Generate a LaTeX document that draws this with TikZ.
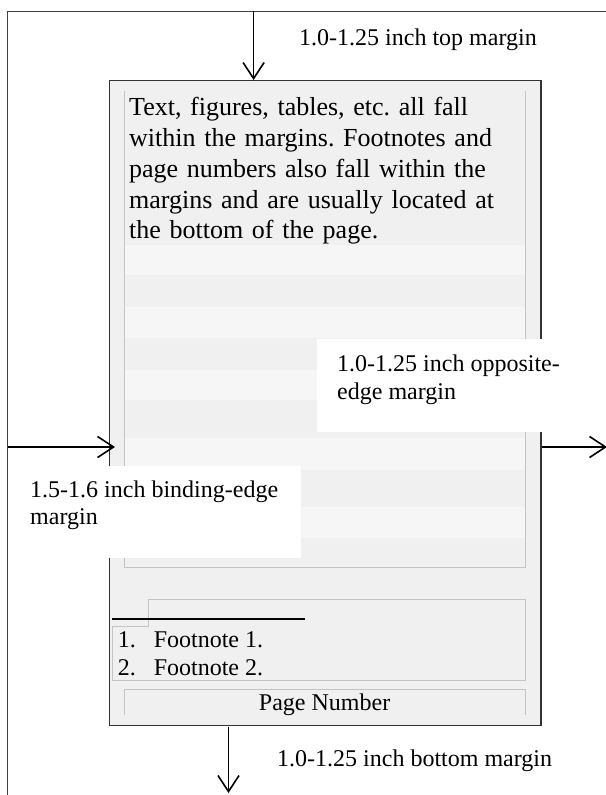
\documentclass[tikz,border=0pt]{standalone}
\usepackage{fontspec}
\setmainfont{Liberation Serif}
\usetikzlibrary{arrows.meta}
\definecolor{pagegray}{HTML}{F0F0F0}
\definecolor{bandlight}{HTML}{F6F6F6}
\definecolor{linegray}{HTML}{C4C4C4}
\newcommand\bodyfnt{\fontsize{26}{30.75}\selectfont\frenchspacing}
\newcommand\lblfnt{\fontsize{24}{27.5}\selectfont\frenchspacing}
\tikzset{
  frameline/.style={draw=black!75, line width=1.5pt},
  arr/.style={draw=black, line width=1.6pt, -{Straight Barb[length=16pt,width=21pt,line width=1.6pt]}},
  pagebox/.style={draw=black!80, line width=1.4pt, fill=pagegray, inner sep=0pt, anchor=north west},
  areabox/.style={inner sep=0pt, anchor=north west, draw=none},
  faint/.style={draw=linegray, line width=1pt},
  whitebox/.style={fill=white, inner sep=0pt, draw=none, anchor=north west},
  lbl/.style={font=\lblfnt, inner sep=0pt, anchor=base west, align=left},
  bodytext/.style={font=\bodyfnt, inner sep=0pt, anchor=base west, text width=400pt, align=left},
  fnrule/.style={draw=black, line width=2pt},
}
\begin{document}
\begin{tikzpicture}[x=1pt,y=-1pt]
\useasboundingbox (0,0) rectangle (605,795);
% outer page frame
\coordinate (fTR) at (612,11.3);
\coordinate (fTL) at (7.7,11.3);
\coordinate (fBL) at (7.7,800);
\draw[frameline] (fTR) -- (fTL) -- (fBL);
% page
\node[pagebox, minimum width=431.6pt, minimum height=645pt] (page) at (108.6,80) {};
% text area stripes
\foreach \a/\b in {245/275,307/338,370/400,438/470,507/538}
  \fill[bandlight] (124.3,\a) rectangle (525,\b);
\node[areabox, minimum width=400.7pt, minimum height=476.3pt] (textarea) at (124.3,90.7) {};
\draw[faint] (textarea.north west) -- (textarea.south west) -- (textarea.south east) -- (textarea.north east);
\node[bodytext] (body) at (129,115.8) {Text, figures, tables, etc. all fall\\within the margins. Footnotes and\\page numbers also fall within the\\margins and are usually located at\\the bottom of the page.};
% footnote area
\draw[faint] (148.3,599) -- (525,599) -- (525,680.7) -- (112.7,680.7) -- (112.7,626) -- (148.3,626) -- cycle;
\coordinate (ruleL) at (112.3,619.3);
\coordinate (ruleR) at (305,619.3);
\draw[fnrule] (ruleL) -- (ruleR);
\node[lbl] (fn1n) at (117.7,647.7) {1.};
\node[lbl] (fn1) at (153.6,647.7) {Footnote 1.};
\node[lbl] (fn2n) at (117.7,675) {2.};
\node[lbl] (fn2) at (153.6,675) {Footnote 2.};
% page number area
\node[areabox, minimum width=400.7pt, minimum height=25.3pt] (pnarea) at (124.3,689) {};
\draw[faint] (pnarea.south west) -- (pnarea.north west) -- (pnarea.north east) -- (pnarea.south east);
\node[font=\lblfnt, inner sep=0pt, anchor=base] (pnum) at (324.6,710) {Page Number};
% white label boxes
\node[whitebox, minimum width=224.5pt, minimum height=92.7pt] (oppbox) at (317,339) {};
\node[lbl] (opplabel) at (337,399.2) {1.0-1.25 inch opposite-\\edge margin};
\node[whitebox, minimum width=291.3pt, minimum height=92pt] (bindbox) at (9,466) {};
\node[lbl] (bindlabel) at (30,524.5) {1.5-1.6 inch binding-edge\\margin};
% other labels
\node[lbl] (toplabel) at (299,45) {1.0-1.25 inch top margin};
\node[lbl] (botlabel) at (277,766.5) {1.0-1.25 inch bottom margin};
% arrows
\coordinate (topS) at (253.6,11.3);
\coordinate (topE) at (253.6,80);
\draw[arr] (topS) -- (topE);
\coordinate (leftS) at (7.7,447);
\coordinate (leftE) at (115,447);
\draw[arr] (leftS) -- (leftE);
\coordinate (rightS) at (541.5,447);
\coordinate (rightE) at (607,447);
\draw[arr] (rightS) -- (rightE);
\coordinate (botS) at (228.5,726.5);
\coordinate (botE) at (228.5,793);
\draw[arr] (botS) -- (botE);
\end{tikzpicture}
\end{document}
